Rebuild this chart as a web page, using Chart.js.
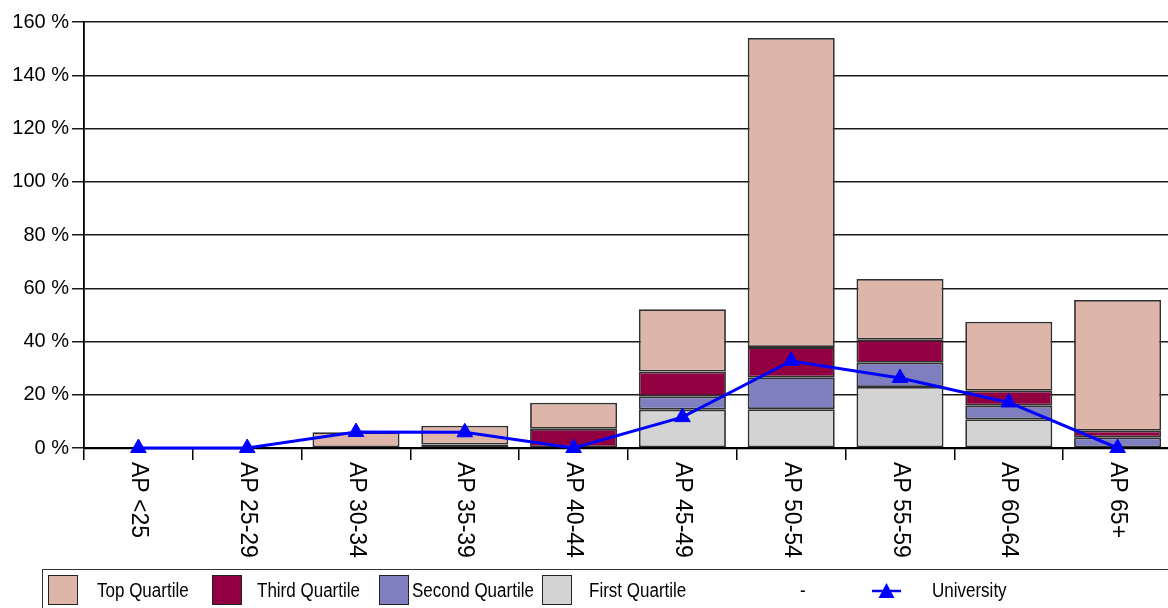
<!DOCTYPE html>
<html>
<head>
<meta charset="utf-8">
<script src="https://cdn.jsdelivr.net/npm/chart.js@4/dist/chart.umd.min.js"></script>
<style>
  html, body { margin: 0; padding: 0; background: #fff; overflow: hidden; width: 1168px; height: 608px; }
  #wrap { position: relative; width: 1168px; height: 608px; overflow: hidden; }
  canvas { position: absolute; left: 0; top: 0; }
  #legend { position: absolute; left: 42px; top: 569px; width: 1200px; height: 60px;
            border-top: 1.5px solid #333; border-left: 1.5px solid #333;
            font-family: "Liberation Sans", Arial, sans-serif; font-size: 20px; color: #000; }
  .sw { position: absolute; top: 5px; width: 28px; height: 28px; border: 1px solid #222; }
  .lt { position: absolute; top: 9px; transform: scaleX(0.85); transform-origin: left center; white-space: nowrap; line-height: 22px; }
</style>
</head>
<body>
<div id="wrap">
  <canvas id="c" width="1182" height="608"></canvas>
  <div id="legend"></div>
</div>
<script>
const categories = ["AP <25", "AP 25-29", "AP 30-34", "AP 35-39", "AP 40-44", "AP 45-49", "AP 50-54", "AP 55-59", "AP 60-64", "AP 65+"];
const firstQuartile  = [0, 0, 0,   0,   0,   14.4, 14.6, 22.9, 10.8, 0];
const secondQuartile = [0, 0, 0,   0,   0,   5.0,  12.0, 9.1,  5.1,  4.0];
const thirdQuartile  = [0, 0, 0,   1.3, 7.2, 9.3,  11.3, 8.7,  5.6,  2.5];
const topQuartile    = [0, 0, 5.9, 7.1, 9.8, 23.4, 116.1, 22.8, 25.9, 49.1];
const university     = [0, 0, 6.0, 5.9, 0,   11.6, 32.7, 26.3, 17.1, 0];
const yTicks = [0, 20, 40, 60, 80, 100, 120, 140, 160];
const legendItems = ["Top Quartile", "Third Quartile", "Second Quartile", "First Quartile", "-", "University"];

const colTop = "#DEB6A9", colThird = "#930041", colSecond = "#7F7FBF", colFirst = "#D3D3D3", colUni = "#0000FF";
const FONT = '"Liberation Sans", Arial, sans-serif';

const xLabelPlugin = {
  id: 'xLabels',
  afterDraw(chart) {
    const ctx = chart.ctx;
    const xs = chart.scales.x;
    ctx.save();
    ctx.fillStyle = '#000';
    ctx.font = '23px ' + FONT;
    ctx.textAlign = 'left';
    ctx.textBaseline = 'middle';
    categories.forEach((lab, i) => {
      const x = xs.getPixelForValue(i);
      ctx.save();
      ctx.translate(x, 462);
      ctx.rotate(Math.PI / 2);
      ctx.fillText(lab, 0, 0);
      ctx.restore();
    });
    ctx.restore();
  }
};

const barCommon = { borderColor: '#303030', borderWidth: 1.8, barPercentage: 0.8, categoryPercentage: 1.0, stack: 'q', order: 2, borderSkipped: false };

new Chart(document.getElementById('c'), {
  data: {
    labels: categories,
    datasets: [
      Object.assign({ type: 'bar', label: 'First Quartile', data: firstQuartile, backgroundColor: colFirst }, barCommon),
      Object.assign({ type: 'bar', label: 'Second Quartile', data: secondQuartile, backgroundColor: colSecond }, barCommon),
      Object.assign({ type: 'bar', label: 'Third Quartile', data: thirdQuartile, backgroundColor: colThird }, barCommon),
      Object.assign({ type: 'bar', label: 'Top Quartile', data: topQuartile, backgroundColor: colTop }, barCommon),
      { type: 'line', label: 'University', data: university, stack: 'u', order: 0,
        borderColor: colUni, borderWidth: 3, tension: 0, clip: false,
        pointStyle: 'triangle', pointRadius: 9, pointBackgroundColor: colUni, pointBorderColor: colUni, pointBorderWidth: 1 }
    ]
  },
  options: {
    responsive: false,
    animation: false,
    devicePixelRatio: 1,
    layout: { padding: { top: 22, left: 0, right: 0, bottom: 148 } },
    plugins: { legend: { display: false }, tooltip: { enabled: false } },
    scales: {
      x: {
        stacked: true,
        offset: true,
        grid: { display: true, drawOnChartArea: false, drawTicks: true, tickLength: 12, color: '#000', lineWidth: 1.5, offset: true },
        border: { display: true, color: '#000', width: 2.2 },
        ticks: { display: false },
        afterFit(scale) { scale.height = 12; }
      },
      y: {
        stacked: true,
        min: 0, max: 160,
        afterBuildTicks(scale) { scale.ticks = yTicks.map(v => ({ value: v })); },
        grid: { color: '#1a1a1a', lineWidth: 1.5, tickLength: 12, drawTicks: true },
        border: { display: true, color: '#000', width: 1.8 },
        ticks: { color: '#000', font: { family: FONT, size: 20 }, padding: 3, callback: v => v + ' %' },
        afterFit(scale) { scale.width = 84; }
      }
    }
  },
  plugins: [xLabelPlugin]
});

// HTML legend
const lg = document.getElementById('legend');
const swatchCols = [colTop, colThird, colSecond, colFirst];
const swX = [5, 169, 336, 499];
const txX = [54, 214, 369, 546, 757, 889];
legendItems.forEach((name, i) => {
  if (i < 4) {
    const s = document.createElement('div');
    s.className = 'sw';
    s.style.left = swX[i] + 'px';
    s.style.background = swatchCols[i];
    lg.appendChild(s);
  }
  if (i === 5) {
    const svg = document.createElementNS('http://www.w3.org/2000/svg', 'svg');
    svg.setAttribute('width', '32'); svg.setAttribute('height', '20');
    svg.style.position = 'absolute'; svg.style.left = '828px'; svg.style.top = '11px';
    svg.innerHTML = '<line x1="1" y1="10" x2="30" y2="10" stroke="' + colUni + '" stroke-width="2.5"/>' +
      '<polygon points="15.5,2 23.5,17 7.5,17" fill="' + colUni + '"/>';
    lg.appendChild(svg);
  }
  const t = document.createElement('div');
  t.className = 'lt';
  t.style.left = txX[i] + 'px';
  t.textContent = name;
  lg.appendChild(t);
});
</script>
</body>
</html>
